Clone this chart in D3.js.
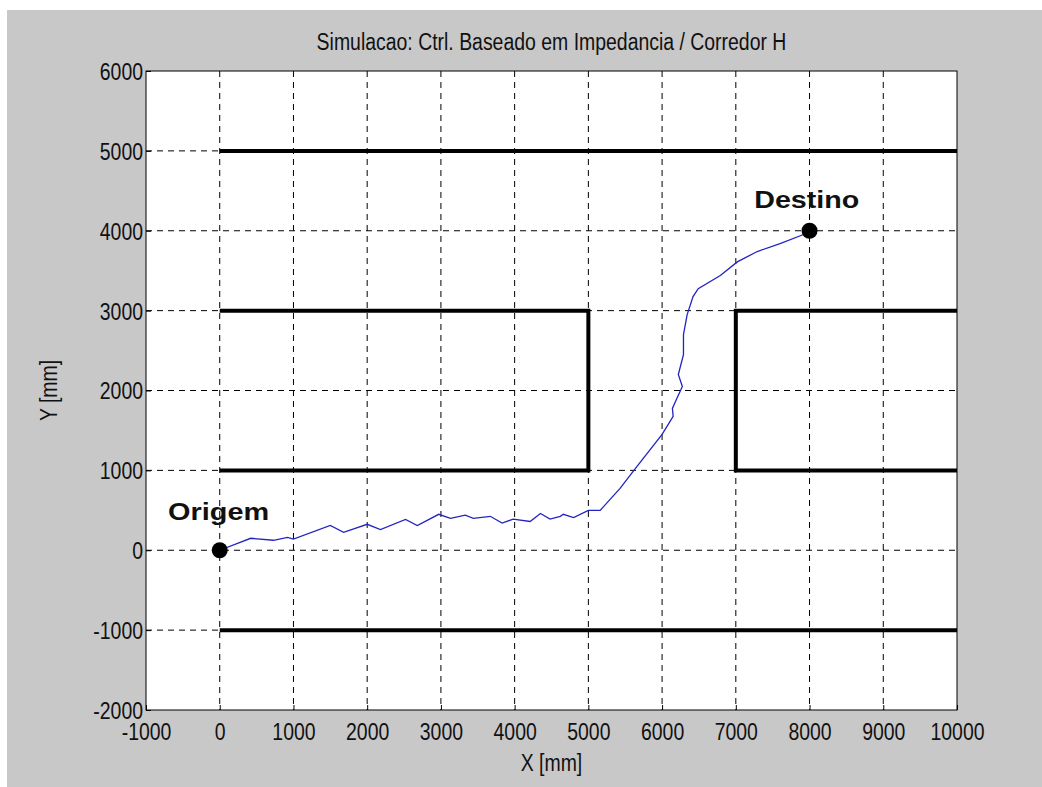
<!DOCTYPE html>
<html>
<head>
<meta charset="utf-8">
<script src="https://cdn.jsdelivr.net/npm/d3@7"></script>
<style>
body { margin: 0; background: #fff; }
text { font-family: 'Liberation Sans', Arial, sans-serif; }
</style>
</head>
<body>
<div id="chart"></div>
<script>
// trajectory of the robot (mm)
var pathX = [0, 420, 730, 920, 1000, 1500, 1680, 2000, 2180, 2520, 2680, 2970, 3130, 3330, 3440, 3670, 3830, 3980, 4210, 4350, 4480, 4620, 4660, 4800, 5000, 5160, 5430, 5660, 6000, 6150, 6140, 6200, 6275, 6220, 6290, 6290, 6340, 6420, 6490, 6790, 7020, 7290, 7600, 7910, 8000];
var pathY = [0, 150, 125, 160, 140, 310, 225, 325, 260, 385, 310, 450, 400, 440, 400, 425, 340, 390, 360, 460, 390, 425, 450, 410, 500, 500, 775, 1050, 1450, 1675, 1775, 1900, 2050, 2200, 2450, 2700, 2950, 3175, 3275, 3440, 3610, 3740, 3840, 3950, 4000];

// corridor walls, each a polyline
var walls = [
  [[0, 5000], [10000, 5000]],
  [[0, -1000], [10000, -1000]],
  [[0, 3000], [5000, 3000], [5000, 1000], [0, 1000]],
  [[10000, 3000], [7000, 3000], [7000, 1000], [10000, 1000]]
];

// start / goal points and their text labels (data coords of the text)
var pointX = [0, 8000];
var pointY = [0, 4000];
var labels = ['Origem', 'Destino'];
var labelX = [-700, 7250];
var labelY = [380, 4280];

var xTicks = d3.range(-1000, 10001, 1000);
var yTicks = d3.range(-2000, 6001, 1000);
var title = 'Simulacao: Ctrl. Baseado em Impedancia / Corredor H';

var W = 1042, H = 787;
var margin = {top: 71, right: 85, bottom: 77, left: 146};
var SX = 0.81, FS = 24;   // narrow tall text, like the old matlab font

var svg = d3.select('#chart').append('svg')
  .attr('width', W).attr('height', H);

svg.append('rect').attr('x', 7).attr('y', 10).attr('width', W - 7).attr('height', H - 10)
  .attr('fill', '#c8c8c8');

var x = d3.scaleLinear().domain([-1000, 10000]).range([margin.left, W - margin.right]);
var y = d3.scaleLinear().domain([-2000, 6000]).range([H - margin.bottom, margin.top]);

function narrowText(px, py, str, rot) {
  var g = svg.append('g')
    .attr('transform', 'translate(' + px + ',' + py + ')' + (rot ? ' rotate(' + rot + ')' : '') + ' scale(' + SX + ',1)');
  return g.append('text').attr('text-anchor', 'middle').attr('font-size', FS).attr('fill', '#111').text(str);
}

svg.append('rect')
  .attr('x', x(-1000)).attr('y', y(6000))
  .attr('width', x(10000) - x(-1000)).attr('height', y(-2000) - y(6000))
  .attr('fill', '#fff');

// grid
var grid = svg.append('g').attr('stroke', '#000').attr('stroke-width', 1).attr('stroke-dasharray', '6,5');
grid.selectAll('.vx').data(xTicks.slice(1, -1)).enter().append('line')
  .attr('x1', d => x(d)).attr('x2', d => x(d))
  .attr('y1', y(6000)).attr('y2', y(-2000));
grid.selectAll('.hy').data(yTicks.slice(1, -1)).enter().append('line')
  .attr('x1', x(-1000)).attr('x2', x(10000))
  .attr('y1', d => y(d)).attr('y2', d => y(d));

// walls
var line = d3.line().x(d => x(d[0])).y(d => y(d[1]));
svg.selectAll('.wall').data(walls).enter().append('path')
  .attr('d', line).attr('fill', 'none')
  .attr('stroke', '#000').attr('stroke-width', 4).attr('stroke-linejoin', 'miter');

// trajectory
var traj = pathX.map((v, i) => [v, pathY[i]]);
svg.append('path').datum(traj)
  .attr('d', line).attr('fill', 'none')
  .attr('stroke', '#2323c4').attr('stroke-width', 1.3);

// axes box
svg.append('rect')
  .attr('x', x(-1000)).attr('y', y(6000))
  .attr('width', x(10000) - x(-1000)).attr('height', y(-2000) - y(6000))
  .attr('fill', 'none').attr('stroke', '#000').attr('stroke-width', 1);

var fmt = d => String(d);
var xAxis = svg.append('g').attr('transform', 'translate(0,' + y(-2000) + ')')
  .call(d3.axisBottom(x).tickValues(xTicks).tickSize(-5).tickFormat(fmt));
var yAxis = svg.append('g').attr('transform', 'translate(' + x(-1000) + ',0)')
  .call(d3.axisLeft(y).tickValues(yTicks).tickSize(-5).tickFormat(fmt));
[xAxis, yAxis].forEach(function (a) {
  a.select('.domain').remove();
  a.selectAll('text').attr('font-size', FS).attr('fill', '#111')
    .style('font-family', "'Liberation Sans', Arial, sans-serif");
  a.selectAll('.tick line').attr('stroke', '#000');
});
xAxis.selectAll('text').attr('y', 30).attr('dy', 0).attr('transform', 'scale(' + SX + ',1)');
yAxis.selectAll('text').attr('x', -3 / SX).attr('dy', '0.35em').attr('transform', 'scale(' + SX + ',1)');

// markers
svg.selectAll('.pt').data(pointX).enter().append('circle')
  .attr('cx', d => x(d)).attr('cy', (d, i) => y(pointY[i])).attr('r', 8).attr('fill', '#000');
svg.selectAll('.lbl').data(labels).enter().append('text')
  .attr('x', (d, i) => x(labelX[i])).attr('y', (d, i) => y(labelY[i]))
  .attr('font-size', 23).attr('font-weight', 'bold').attr('fill', '#111')
  .attr('textLength', (d, i) => i === 0 ? 101 : 105).attr('lengthAdjust', 'spacingAndGlyphs')
  .text(d => d);

var cx = (x(-1000) + x(10000)) / 2;
narrowText(cx, 50, title);
narrowText(cx, 771, 'X [mm]');
narrowText(57, (y(-2000) + y(6000)) / 2, 'Y [mm]', -90);
</script>
</body>
</html>
